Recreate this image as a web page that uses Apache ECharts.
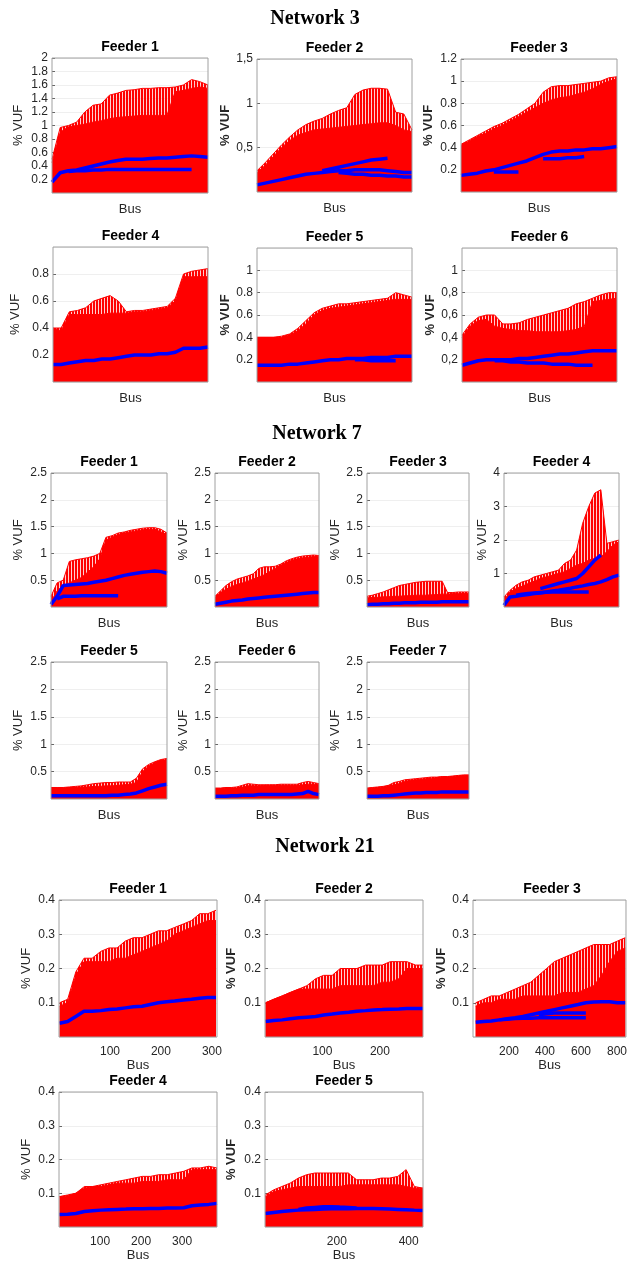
<!DOCTYPE html>
<html><head><meta charset="utf-8">
<script src="https://cdn.jsdelivr.net/npm/echarts@6/dist/echarts.min.js"></script>
<style>html,body{margin:0;padding:0;background:#fff}#c{width:630px;height:1263px}</style>
</head><body><div id="c"></div>
<script>
// ---------- sample bus positions (Network 3 / 7 have no numbered bus axis) ----------
const samples = ['1','2','3','4','5','6','7','8','9','10','11','12','13','14','15','16','17','18','19','20'];
const _ = null;

// ---------- Network 3 ----------
const n3f1_fill = [0.45,0.9,0.98,1.0,1.02,1.05,1.07,1.1,1.12,1.13,1.14,1.15,1.15,1.15,1.15,1.5,1.52,1.55,1.57,1.55];
const n3f1_top  = [0.5,0.97,1.0,1.05,1.2,1.3,1.32,1.45,1.48,1.52,1.53,1.55,1.55,1.56,1.56,1.57,1.6,1.68,1.65,1.6];
const n3f1_mean = [0.16,0.3,0.33,0.34,0.37,0.4,0.43,0.46,0.48,0.5,0.5,0.5,0.51,0.52,0.52,0.53,0.54,0.55,0.54,0.53];
const n3f1_mean2= [_,_,0.32,0.33,0.33,0.34,0.34,0.35,0.35,0.35,0.35,0.35,0.35,0.35,0.35,0.35,0.35,0.35,_,_];

const n3f2_fill = [0.22,0.3,0.4,0.5,0.58,0.64,0.67,0.7,0.71,0.72,0.73,0.74,0.75,0.76,0.77,0.78,0.78,0.75,0.7,0.68];
const n3f2_top  = [0.24,0.33,0.43,0.53,0.62,0.7,0.76,0.8,0.83,0.88,0.92,0.95,1.1,1.15,1.17,1.17,1.16,0.9,0.88,0.7];
const n3f2_mean = [0.08,0.1,0.12,0.14,0.16,0.18,0.2,0.21,0.22,0.23,0.24,0.24,0.25,0.25,0.25,0.25,0.24,0.23,0.22,0.22];
const n3f2_mean2= [_,_,_,_,_,_,_,_,0.24,0.26,0.28,0.3,0.32,0.34,0.36,0.37,0.38,_,_,_];
const n3f2_mean3= [_,_,_,_,_,_,_,_,_,_,0.22,0.21,0.2,0.2,0.19,0.19,0.18,0.18,0.17,0.17];

const n3f3_fill = [0.42,0.46,0.5,0.53,0.57,0.6,0.64,0.68,0.72,0.76,0.8,0.83,0.85,0.86,0.88,0.9,0.93,0.97,1.0,1.02];
const n3f3_top  = [0.43,0.47,0.51,0.55,0.59,0.62,0.66,0.7,0.75,0.8,0.9,0.95,0.96,0.96,0.97,0.98,0.99,1.0,1.03,1.04];
const n3f3_mean = [0.15,0.16,0.17,0.19,0.2,0.22,0.24,0.26,0.28,0.31,0.34,0.36,0.37,0.37,0.38,0.38,0.39,0.39,0.4,0.41];
const n3f3_mean2= [_,_,_,_,0.18,0.18,0.18,0.18,_,_,0.3,0.3,0.3,0.31,0.31,0.32,_,_,_,_];

const n3f4_fill = [0.4,0.38,0.5,0.5,0.5,0.5,0.5,0.51,0.51,0.51,0.52,0.52,0.53,0.54,0.55,0.6,0.78,0.78,0.78,0.78];
const n3f4_top  = [0.4,0.4,0.52,0.53,0.55,0.6,0.62,0.64,0.6,0.52,0.53,0.53,0.54,0.55,0.56,0.62,0.8,0.82,0.83,0.84];
const n3f4_mean = [0.13,0.13,0.14,0.15,0.16,0.16,0.17,0.17,0.18,0.19,0.2,0.2,0.2,0.21,0.21,0.22,0.25,0.25,0.25,0.26];

const n3f5_fill = [0.4,0.4,0.4,0.4,0.42,0.46,0.52,0.6,0.64,0.66,0.67,0.68,0.69,0.7,0.71,0.72,0.73,0.74,0.74,0.74];
const n3f5_top  = [0.4,0.4,0.4,0.41,0.43,0.48,0.55,0.62,0.66,0.68,0.7,0.7,0.71,0.72,0.73,0.74,0.75,0.8,0.78,0.76];
const n3f5_mean = [0.15,0.15,0.15,0.15,0.16,0.16,0.17,0.18,0.19,0.2,0.2,0.21,0.21,0.21,0.22,0.22,0.22,0.23,0.23,0.23];
const n3f5_mean2= [_,_,_,_,_,_,_,_,_,_,_,_,0.2,0.2,0.19,0.19,0.19,0.19,_,_];

const n3f6_fill = [0.4,0.5,0.55,0.56,0.5,0.48,0.47,0.46,0.46,0.45,0.45,0.45,0.45,0.46,0.47,0.5,0.72,0.73,0.74,0.75];
const n3f6_top  = [0.42,0.52,0.58,0.6,0.6,0.52,0.52,0.53,0.56,0.58,0.6,0.62,0.64,0.66,0.7,0.72,0.75,0.78,0.8,0.8];
const n3f6_mean = [0.15,0.17,0.19,0.2,0.2,0.2,0.2,0.21,0.21,0.22,0.23,0.24,0.25,0.25,0.26,0.27,0.28,0.28,0.28,0.28];
const n3f6_mean2= [_,_,_,_,0.19,0.19,0.18,0.18,0.17,0.17,0.17,0.16,0.16,0.16,0.15,0.15,0.15,_,_,_];

// ---------- Network 7 ----------
const n7f1_fill = [0.1,0.3,0.4,0.45,0.5,0.55,0.65,0.75,0.9,1.25,1.3,1.35,1.38,1.4,1.42,1.44,1.45,1.45,1.4,1.35];
const n7f1_top  = [0.2,0.45,0.5,0.85,0.88,0.9,0.92,0.95,1.0,1.3,1.33,1.38,1.4,1.43,1.45,1.47,1.48,1.48,1.45,1.38];
const n7f1_mean = [0.05,0.2,0.4,0.41,0.42,0.43,0.44,0.46,0.48,0.5,0.53,0.56,0.59,0.61,0.63,0.65,0.66,0.67,0.66,0.63];
const n7f1_mean2= [_,0.15,0.2,0.2,0.2,0.21,0.21,0.21,0.21,0.21,0.21,0.21,_,_,_,_,_,_,_,_];

const n7f2_fill = [0.18,0.27,0.33,0.38,0.42,0.45,0.48,0.52,0.56,0.6,0.66,0.72,0.78,0.83,0.87,0.9,0.92,0.93,0.94,0.94];
const n7f2_top  = [0.2,0.3,0.4,0.47,0.52,0.55,0.58,0.62,0.72,0.75,0.75,0.76,0.8,0.86,0.9,0.93,0.95,0.96,0.97,0.96];
const n7f2_mean = [0.05,0.07,0.09,0.11,0.12,0.13,0.15,0.16,0.17,0.18,0.19,0.2,0.21,0.22,0.23,0.24,0.25,0.26,0.27,0.27];

const n7f3_fill = [0.17,0.18,0.18,0.19,0.19,0.2,0.2,0.21,0.21,0.22,0.22,0.22,0.23,0.23,0.24,0.24,0.25,0.25,0.25,0.25];
const n7f3_top  = [0.2,0.22,0.25,0.28,0.32,0.36,0.4,0.42,0.44,0.46,0.47,0.48,0.48,0.48,0.48,0.27,0.27,0.28,0.28,0.28];
const n7f3_mean = [0.04,0.05,0.05,0.06,0.06,0.07,0.07,0.08,0.08,0.08,0.09,0.09,0.09,0.09,0.1,0.1,0.1,0.1,0.1,0.1];

const n7f4_fill = [0.2,0.45,0.55,0.62,0.7,0.77,0.85,0.9,0.95,1.0,1.05,1.15,1.25,1.3,1.4,1.45,1.5,1.65,1.85,1.95];
const n7f4_top  = [0.3,0.5,0.65,0.75,0.8,0.9,0.95,1.0,1.05,1.1,1.3,1.4,1.7,2.5,3.0,3.4,3.5,1.9,1.95,2.0];
const n7f4_mean = [0.05,0.3,0.32,0.35,0.37,0.4,0.42,0.45,0.48,0.5,0.53,0.56,0.6,0.63,0.67,0.7,0.75,0.82,0.9,0.95];
const n7f4_mean2= [_,_,_,_,_,_,0.55,0.6,0.65,0.7,0.75,0.8,0.85,1.0,1.2,1.4,1.55,_,_,_];
const n7f4_mean3= [_,_,0.35,0.38,0.4,0.42,0.43,0.44,0.45,0.45,0.45,0.45,0.45,0.45,0.45,_,_,_,_,_];

const n7f5_fill = [0.2,0.2,0.2,0.21,0.21,0.22,0.22,0.23,0.23,0.24,0.24,0.25,0.26,0.27,0.3,0.5,0.6,0.66,0.7,0.72];
const n7f5_top  = [0.21,0.21,0.21,0.22,0.23,0.24,0.26,0.28,0.29,0.3,0.3,0.31,0.31,0.31,0.38,0.55,0.63,0.68,0.72,0.74];
const n7f5_mean = [0.06,0.06,0.06,0.06,0.06,0.06,0.06,0.06,0.06,0.06,0.07,0.07,0.08,0.09,0.11,0.15,0.19,0.22,0.25,0.27];

const n7f6_fill = [0.19,0.19,0.2,0.2,0.2,0.22,0.24,0.24,0.24,0.25,0.25,0.25,0.25,0.25,0.25,0.25,0.26,0.27,0.27,0.26];
const n7f6_top  = [0.2,0.2,0.21,0.21,0.22,0.25,0.28,0.27,0.26,0.26,0.26,0.26,0.27,0.27,0.27,0.27,0.3,0.32,0.3,0.28];
const n7f6_mean = [0.05,0.05,0.05,0.06,0.06,0.07,0.07,0.07,0.08,0.08,0.08,0.08,0.08,0.08,0.08,0.09,0.1,0.14,0.1,0.08];

const n7f7_fill = [0.19,0.2,0.21,0.22,0.24,0.26,0.28,0.32,0.34,0.35,0.36,0.37,0.38,0.39,0.4,0.4,0.41,0.42,0.43,0.43];
const n7f7_top  = [0.2,0.21,0.22,0.23,0.25,0.3,0.32,0.35,0.36,0.37,0.38,0.39,0.4,0.4,0.41,0.41,0.42,0.43,0.44,0.44];
const n7f7_mean = [0.05,0.05,0.05,0.06,0.06,0.07,0.08,0.09,0.1,0.11,0.11,0.12,0.12,0.12,0.13,0.13,0.13,0.13,0.13,0.13];

// ---------- Network 21 (numbered buses) ----------
const n21f1_bus  = [1,17,33,49,65,82,98,114,130,146,163,179,195,211,227,244,260,276,292,308];
const n21f1_fill = [0.09,0.1,0.18,0.22,0.22,0.22,0.22,0.23,0.23,0.24,0.25,0.26,0.27,0.28,0.3,0.31,0.32,0.33,0.34,0.34];
const n21f1_top  = [0.1,0.11,0.19,0.23,0.23,0.25,0.26,0.26,0.28,0.29,0.29,0.3,0.31,0.31,0.32,0.33,0.34,0.36,0.36,0.37];
const n21f1_mean = [0.04,0.045,0.06,0.075,0.075,0.077,0.08,0.082,0.085,0.088,0.09,0.095,0.1,0.103,0.105,0.108,0.11,0.113,0.115,0.115];

const n21f2_bus  = [1,15,30,44,59,73,88,102,117,131,146,160,175,189,204,218,233,247,262,275];
const n21f2_fill = [0.1,0.11,0.12,0.13,0.14,0.14,0.14,0.14,0.14,0.15,0.15,0.15,0.15,0.15,0.16,0.16,0.17,0.2,0.2,0.2];
const n21f2_top  = [0.1,0.11,0.12,0.13,0.14,0.15,0.17,0.18,0.18,0.2,0.2,0.2,0.21,0.21,0.21,0.22,0.22,0.22,0.21,0.21];
const n21f2_mean = [0.045,0.048,0.05,0.053,0.056,0.058,0.06,0.064,0.067,0.07,0.072,0.075,0.077,0.079,0.08,0.081,0.082,0.083,0.083,0.083];

const n21f3_bus  = [15,59,102,146,190,234,277,321,365,409,452,496,540,584,627,671,715,759,802,846];
const n21f3_fill = [0.09,0.1,0.1,0.11,0.11,0.11,0.12,0.12,0.12,0.12,0.12,0.13,0.13,0.13,0.14,0.15,0.18,0.22,0.25,0.26];
const n21f3_top  = [0.1,0.11,0.12,0.12,0.13,0.14,0.15,0.16,0.18,0.2,0.22,0.23,0.24,0.25,0.26,0.27,0.27,0.27,0.28,0.29];
const n21f3_mean = [0.043,0.045,0.047,0.05,0.053,0.056,0.06,0.065,0.07,0.075,0.08,0.085,0.09,0.095,0.1,0.102,0.103,0.103,0.1,0.1];
const n21f3_mean2= [_,_,_,0.05,0.052,0.054,0.055,0.055,0.056,0.056,0.056,0.056,0.056,0.056,0.056,_,_,_,_,_];
const n21f3_mean3= [_,_,_,_,_,_,_,_,0.065,0.068,0.07,0.07,0.07,0.07,0.07,_,_,_,_,_];

const n21f4_bus  = [1,21,41,62,82,102,122,142,163,183,203,223,243,264,284,304,324,344,365,385];
const n21f4_fill = [0.09,0.092,0.1,0.115,0.12,0.12,0.125,0.13,0.13,0.13,0.135,0.135,0.135,0.14,0.14,0.14,0.17,0.17,0.17,0.17];
const n21f4_top  = [0.09,0.095,0.1,0.12,0.12,0.125,0.13,0.135,0.14,0.145,0.15,0.15,0.155,0.155,0.16,0.165,0.175,0.175,0.18,0.175];
const n21f4_mean = [0.037,0.038,0.04,0.046,0.048,0.05,0.051,0.052,0.053,0.054,0.054,0.055,0.055,0.056,0.056,0.057,0.063,0.065,0.067,0.07];

const n21f5_bus  = [1,24,47,70,93,116,139,162,185,208,232,255,278,301,324,347,370,393,416,440];
const n21f5_fill = [0.09,0.105,0.11,0.115,0.12,0.12,0.12,0.12,0.12,0.12,0.125,0.125,0.125,0.125,0.125,0.125,0.125,0.12,0.115,0.115];
const n21f5_top  = [0.095,0.11,0.12,0.13,0.145,0.155,0.16,0.16,0.16,0.16,0.16,0.14,0.14,0.14,0.145,0.145,0.15,0.17,0.12,0.115];
const n21f5_mean = [0.04,0.043,0.046,0.048,0.05,0.051,0.052,0.053,0.054,0.054,0.054,0.055,0.055,0.055,0.054,0.053,0.052,0.051,0.05,0.049];
const n21f5_mean2= [_,_,_,_,0.052,0.056,0.058,0.06,0.06,0.059,0.058,0.056,_,_,_,_,_,_,_,_];

// ---------- axis scales (max, tick step) ----------
const yMaxN3 = [2, 1.5, 1.2, 1, 1.2, 1.2];
const yStepN3 = [0.2, 0.5, 0.2, 0.2, 0.2, 0.2];
const yMaxN7 = [2.5, 2.5, 2.5, 4, 2.5, 2.5, 2.5];
const yStepN7 = [0.5, 0.5, 0.5, 1, 0.5, 0.5, 0.5];
const yMaxN21 = [0.4, 0.4, 0.4, 0.4, 0.4];
const yStepN21 = [0.1, 0.1, 0.1, 0.1, 0.1];
const xMaxN21 = [310, 275, 850, 385, 440];
const xStepN21 = [100, 100, 200, 100, 200];

// ---------- plot definitions (data) ----------
const plotsData = [
  {t:'Feeder 1', fill:n3f1_fill, top:n3f1_top, means:[n3f1_mean,n3f1_mean2], yMax:yMaxN3[0], yStep:yStepN3[0]},
  {t:'Feeder 2', fill:n3f2_fill, top:n3f2_top, means:[n3f2_mean,n3f2_mean2,n3f2_mean3], yMax:yMaxN3[1], yStep:yStepN3[1], comma:true},
  {t:'Feeder 3', fill:n3f3_fill, top:n3f3_top, means:[n3f3_mean,n3f3_mean2], yMax:yMaxN3[2], yStep:yStepN3[2]},
  {t:'Feeder 4', fill:n3f4_fill, top:n3f4_top, means:[n3f4_mean], yMax:yMaxN3[3], yStep:yStepN3[3], hideMax:true},
  {t:'Feeder 5', fill:n3f5_fill, top:n3f5_top, means:[n3f5_mean,n3f5_mean2], yMax:yMaxN3[4], yStep:yStepN3[4], hideMax:true},
  {t:'Feeder 6', fill:n3f6_fill, top:n3f6_top, means:[n3f6_mean,n3f6_mean2], yMax:yMaxN3[5], yStep:yStepN3[5], hideMax:true, comma:true},
  {t:'Feeder 1', fill:n7f1_fill, top:n7f1_top, means:[n7f1_mean,n7f1_mean2], yMax:yMaxN7[0], yStep:yStepN7[0]},
  {t:'Feeder 2', fill:n7f2_fill, top:n7f2_top, means:[n7f2_mean], yMax:yMaxN7[1], yStep:yStepN7[1]},
  {t:'Feeder 3', fill:n7f3_fill, top:n7f3_top, means:[n7f3_mean], yMax:yMaxN7[2], yStep:yStepN7[2]},
  {t:'Feeder 4', fill:n7f4_fill, top:n7f4_top, means:[n7f4_mean,n7f4_mean2,n7f4_mean3], yMax:yMaxN7[3], yStep:yStepN7[3]},
  {t:'Feeder 5', fill:n7f5_fill, top:n7f5_top, means:[n7f5_mean], yMax:yMaxN7[4], yStep:yStepN7[4]},
  {t:'Feeder 6', fill:n7f6_fill, top:n7f6_top, means:[n7f6_mean], yMax:yMaxN7[5], yStep:yStepN7[5]},
  {t:'Feeder 7', fill:n7f7_fill, top:n7f7_top, means:[n7f7_mean], yMax:yMaxN7[6], yStep:yStepN7[6]},
  {t:'Feeder 1', bus:n21f1_bus, fill:n21f1_fill, top:n21f1_top, means:[n21f1_mean], yMax:yMaxN21[0], yStep:yStepN21[0], xMax:xMaxN21[0], xStep:xStepN21[0]},
  {t:'Feeder 2', bus:n21f2_bus, fill:n21f2_fill, top:n21f2_top, means:[n21f2_mean], yMax:yMaxN21[1], yStep:yStepN21[1], xMax:xMaxN21[1], xStep:xStepN21[1]},
  {t:'Feeder 3', bus:n21f3_bus, fill:n21f3_fill, top:n21f3_top, means:[n21f3_mean,n21f3_mean2,n21f3_mean3], yMax:yMaxN21[2], yStep:yStepN21[2], xMax:xMaxN21[2], xStep:xStepN21[2]},
  {t:'Feeder 4', bus:n21f4_bus, fill:n21f4_fill, top:n21f4_top, means:[n21f4_mean], yMax:yMaxN21[3], yStep:yStepN21[3], xMax:xMaxN21[3], xStep:xStepN21[3]},
  {t:'Feeder 5', bus:n21f5_bus, fill:n21f5_fill, top:n21f5_top, means:[n21f5_mean,n21f5_mean2], yMax:yMaxN21[4], yStep:yStepN21[4], xMax:xMaxN21[4], xStep:xStepN21[4]}
];

// ---------- layout (positions, sizes, styles) ----------
const layout = [
  {l:52, t:58, w:156, h:135, g:27, b:false},
  {l:257,t:59, w:155, h:133, g:25, b:true},
  {l:461,t:59, w:156, h:133, g:26, b:true},
  {l:53, t:247,w:155, h:135, g:31, b:false},
  {l:257,t:248,w:155, h:134, g:25, b:true},
  {l:462,t:248,w:155, h:134, g:23, b:true},
  {l:51, t:473,w:116, h:134, g:26, b:false},
  {l:215,t:473,w:104, h:134, g:25, b:false},
  {l:367,t:473,w:102, h:134, g:25, b:false},
  {l:504,t:473,w:115, h:134, g:15, b:false},
  {l:51, t:662,w:116, h:137, g:26, b:false},
  {l:215,t:662,w:104, h:137, g:25, b:false},
  {l:367,t:662,w:102, h:137, g:25, b:false},
  {l:59, t:900,w:158, h:137, g:26, b:false},
  {l:265,t:900,w:158, h:137, g:27, b:true},
  {l:473,t:900,w:158, h:137, g:24, b:true},
  {l:59, t:1092,w:158,h:136, g:26, b:false},
  {l:265,t:1092,w:158,h:136, g:27, b:true}
];
const networkTitles = [
  {text:'Network 3', x:315, y:17},
  {text:'Network 7', x:317, y:432},
  {text:'Network 21', x:325, y:845}
];

const SANS = "'Liberation Sans', Arial, sans-serif";
const SERIF = "'Liberation Serif', 'Times New Roman', serif";
const TXT = '#262626';

// vertical-stripe pattern for the error-bar (whisker) region
const stripe = document.createElement('canvas');
stripe.width = 3; stripe.height = 4;
const sctx = stripe.getContext('2d');
sctx.fillStyle = '#ff0000'; sctx.fillRect(0, 0, 2, 4);
sctx.fillStyle = 'rgba(255,120,120,0.35)'; sctx.fillRect(2, 0, 1, 4);

const grids = [], xAxes = [], yAxes = [], series = [], titles = [];
networkTitles.forEach(n => titles.push({
  text:n.text, left:n.x, top:n.y - 8, textAlign:'center', padding:0,
  textStyle:{fontFamily:SERIF, fontSize:20, fontWeight:'bold', color:'#000'}
}));

plotsData.forEach((p, i) => {
  const L = layout[i];
  grids.push({left:L.l, top:L.t, width:L.w, height:L.h, show:true, borderColor:'#a0a0a0', borderWidth:1, backgroundColor:'transparent', z:10});
  titles.push({text:p.t, left:L.l + L.w/2, top:L.t - 18, textAlign:'center', padding:0,
    textStyle:{fontFamily:SANS, fontSize:14, fontWeight:'bold', color:'#000'}});
  const numbered = !!p.bus;
  if (numbered) {
    xAxes.push({type:'value', gridIndex:i, min:0, max:p.xMax, interval:p.xStep,
      axisLine:{show:false}, splitLine:{show:false},
      axisTick:{show:true, inside:true, length:3, lineStyle:{color:'#666'}},
      axisLabel:{show:true, showMinLabel:false, showMaxLabel:false, margin:9, fontFamily:SANS, fontSize:12, color:TXT},
      name:'Bus', nameLocation:'middle', nameGap:22,
      nameTextStyle:{fontFamily:SANS, fontSize:13, color:TXT}});
  } else {
    xAxes.push({type:'category', gridIndex:i, data:samples, boundaryGap:false,
      axisLine:{show:false}, axisTick:{show:false}, axisLabel:{show:false}, splitLine:{show:false},
      name:'Bus', nameLocation:'middle', nameGap:10,
      nameTextStyle:{fontFamily:SANS, fontSize:13, color:TXT}});
  }
  yAxes.push({type:'value', gridIndex:i, min:0, max:p.yMax, interval:p.yStep,
    axisLine:{show:false},
    axisTick:{show:true, inside:true, length:3, lineStyle:{color:'#666'}},
    splitLine:{show:true, lineStyle:{color:'#efefef', width:1}},
    axisLabel:{showMinLabel:false, showMaxLabel:!p.hideMax, margin:4, fontFamily:SANS, fontSize:12, color:TXT,
      formatter:v => { const s = String(+(+v).toFixed(2)); return p.comma ? s.replace('.', ',') : s; }},
    name:'% VUF', nameLocation:'middle', nameGap:L.g,
    nameTextStyle:{fontFamily:SANS, fontSize:13, color:TXT, fontWeight:L.b ? 'bold' : 'normal'}});

  const mk = arr => numbered ? arr.map((v, k) => [p.bus[k], v]) : arr;
  series.push({type:'line', xAxisIndex:i, yAxisIndex:i, data:mk(p.top), symbol:'none', silent:true, z:2,
    lineStyle:{color:'#ff0000', width:1}, areaStyle:{color:{image:stripe, repeat:'repeat'}, opacity:1}});
  series.push({type:'line', xAxisIndex:i, yAxisIndex:i, data:mk(p.fill), symbol:'none', silent:true, z:3,
    lineStyle:{color:'#ff0000', width:1}, areaStyle:{color:'#ff0000', opacity:1}});
  p.means.forEach(m => series.push({type:'line', xAxisIndex:i, yAxisIndex:i, data:mk(m), symbol:'none', silent:true, z:4,
    connectNulls:false, lineStyle:{color:'#0000ff', width:3.5}}));
});

const chart = echarts.init(document.getElementById('c'), null, {renderer:'canvas'});
chart.setOption({animation:false, backgroundColor:'#fff', title:titles, grid:grids, xAxis:xAxes, yAxis:yAxes, series:series});
</script></body></html>
